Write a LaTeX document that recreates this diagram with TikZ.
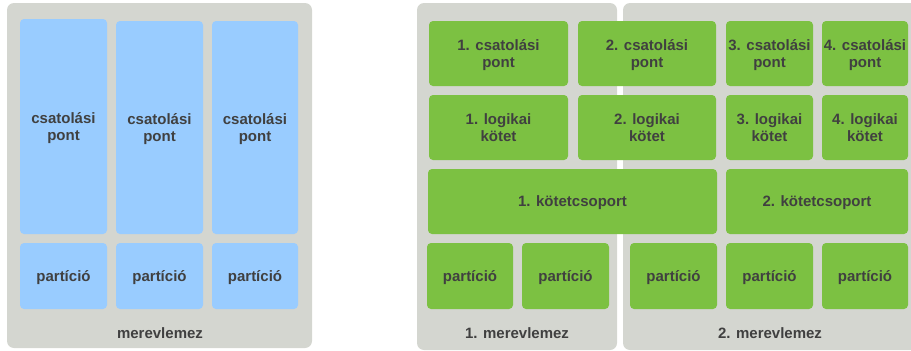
\documentclass[tikz,border=0pt]{standalone}
\usepackage{fontspec}
\setmainfont{Liberation Sans}
\definecolor{diskgray}{HTML}{D4D6D0}
\definecolor{bluebox}{HTML}{99CCFF}
\definecolor{greenbox}{HTML}{7CC142}
\definecolor{txt}{HTML}{404040}
\begin{document}
\begin{tikzpicture}[x=1pt,y=-1pt,
  disk/.style={fill=diskgray,rounded corners=7pt},
  bx/.style={rounded corners=4pt,inner sep=0pt,align=center,text=txt,text depth=0pt,
    font=\fontsize{15}{17}\selectfont\bfseries},
  bluecell/.style={bx,fill=bluebox},
  greencell/.style={bx,fill=greenbox},
  lbl/.style={text=txt,font=\fontsize{15}{17}\selectfont\bfseries}]
\useasboundingbox (0,0) rectangle (911,351);
\begin{scope}
\clip (0,0) rectangle (911,351);
% gray panels
\fill[disk] (7,3) rectangle (312,348);
\fill[disk] (417,3) rectangle (617,350);
\fill[disk] (623,3) rectangle (918,350);
\end{scope}
% left diagram
\node[bluecell,minimum width=87,minimum height=215] (lcp1) at (63.5,126.5) {csatolási\\pont};
\node[bluecell,minimum width=87,minimum height=213] (lcp2) at (159.5,127.5) {csatolási\\pont};
\node[bluecell,minimum width=86,minimum height=213] (lcp3) at (255,127.5) {csatolási\\pont};
\node[bluecell,minimum width=87,minimum height=66] (lp1) at (63.5,276) {partíció};
\node[bluecell,minimum width=87,minimum height=66] (lp2) at (159.5,276) {partíció};
\node[bluecell,minimum width=86,minimum height=66] (lp3) at (255,276) {partíció};
\node[lbl] (ldisk) at (160,333) {merevlemez};
% right diagram
\node[greencell,minimum width=139,minimum height=65] (cp1) at (498.5,53.5) {1. csatolási\\pont};
\node[greencell,minimum width=138,minimum height=65] (cp2) at (647,53.5) {2. csatolási\\pont};
\node[greencell,minimum width=87,minimum height=65] (cp3) at (769.5,53.5) {3. csatolási\\pont};
\node[greencell,minimum width=86,minimum height=65] (cp4) at (865,53.5) {4. csatolási\\pont};
\node[greencell,minimum width=139,minimum height=65] (lv1) at (498.5,127.5) {1. logikai\\kötet};
\node[greencell,minimum width=138,minimum height=65] (lv2) at (647,127.5) {2. logikai\\kötet};
\node[greencell,minimum width=87,minimum height=65] (lv3) at (769.5,127.5) {3. logikai\\kötet};
\node[greencell,minimum width=86,minimum height=65] (lv4) at (865,127.5) {4. logikai\\kötet};
\node[greencell,minimum width=289,minimum height=65] (vg1) at (572.5,201.5) {1. kötetcsoport};
\node[greencell,minimum width=182,minimum height=65] (vg2) at (817,201.5) {2. kötetcsoport};
\node[greencell,minimum width=86,minimum height=66] (p1) at (470,276) {partíció};
\node[greencell,minimum width=87,minimum height=66] (p2) at (565.5,276) {partíció};
\node[greencell,minimum width=87,minimum height=66] (p3) at (673.5,276) {partíció};
\node[greencell,minimum width=87,minimum height=66] (p4) at (769.5,276) {partíció};
\node[greencell,minimum width=86,minimum height=66] (p5) at (865,276) {partíció};
\node[lbl] (d1) at (517,333) {1. merevlemez};
\node[lbl] (d2) at (770,333) {2. merevlemez};
\end{tikzpicture}
\end{document}
